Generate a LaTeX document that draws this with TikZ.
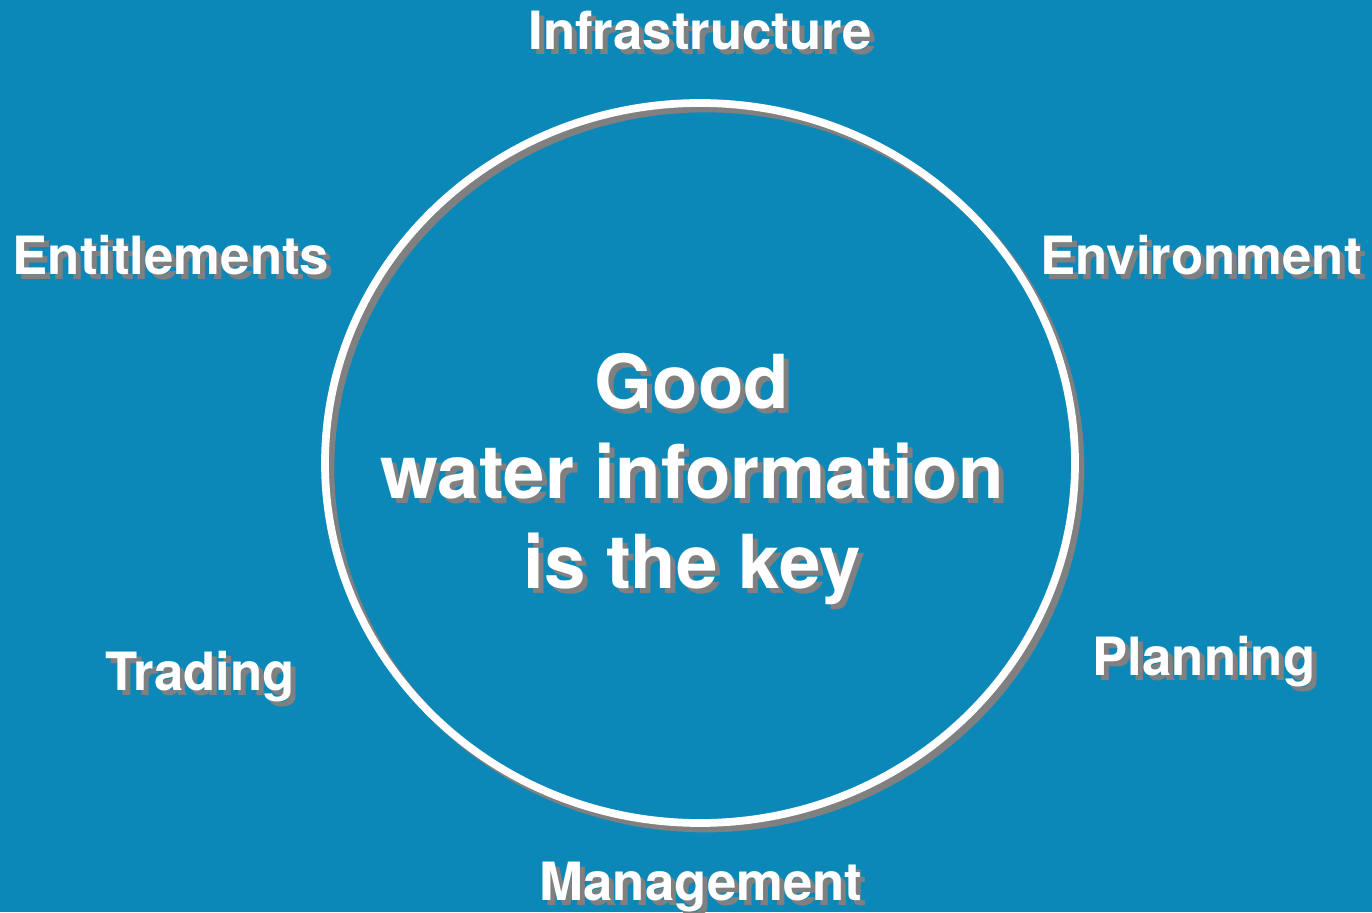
\documentclass[tikz,border=0pt]{standalone}
\usepackage{fontspec}
\setmainfont{TeX Gyre Heros}
\usepackage{xcolor}
\definecolor{waterblue}{HTML}{0C88B8}
\definecolor{shadowgray}{HTML}{808080}

\tikzset{
  lbl/.style={text=white,font=\bfseries\fontsize{15}{18}\selectfont,inner sep=0pt,anchor=base},
  lblshadow/.style={lbl,text=shadowgray},
  keytext/.style={text=white,font=\bfseries\fontsize{21.2}{25.6}\selectfont,inner sep=0pt,anchor=base,align=center},
  keyshadow/.style={keytext,text=shadowgray}
}

\begin{document}
\begin{tikzpicture}
\fill [waterblue] (0,0) rectangle (13.72,9.12);
\useasboundingbox (0,0) rectangle (13.72,9.12);
% ring
\draw [shadowgray,line width=2.2pt] (7.055,4.435) ellipse (3.75 and 3.60);
\draw [white,line width=2.2pt] (7.00,4.49) ellipse (3.75 and 3.60);
% middle text
\node [keyshadow] (key-s) at (6.97,3.19) {Good\\water information\\is the key};
\node [keytext] (key) at (6.92,3.24) {Good\\water information\\is the key};
% labels round the ring
\node [lblshadow] (infra-s) at (7.05,8.57) {Infrastructure};
\node [lbl] (infra) at (7.00,8.62) {Infrastructure};
\node [lblshadow] (entitle-s) at (1.76,6.32) {Entitlements};
\node [lbl] (entitle) at (1.71,6.37) {Entitlements};
\node [lblshadow] (environ-s) at (12.06,6.32) {Environment};
\node [lbl] (environ) at (12.01,6.37) {Environment};
\node [lblshadow] (trading-s) at (2.05,2.17) {Trading};
\node [lbl] (trading) at (2.00,2.22) {Trading};
\node [lblshadow] (planning-s) at (12.09,2.32) {Planning};
\node [lbl] (planning) at (12.04,2.37) {Planning};
\node [lblshadow] (manage-s) at (7.06,0.07) {Management};
\node [lbl] (manage) at (7.01,0.12) {Management};
\end{tikzpicture}
\end{document}
